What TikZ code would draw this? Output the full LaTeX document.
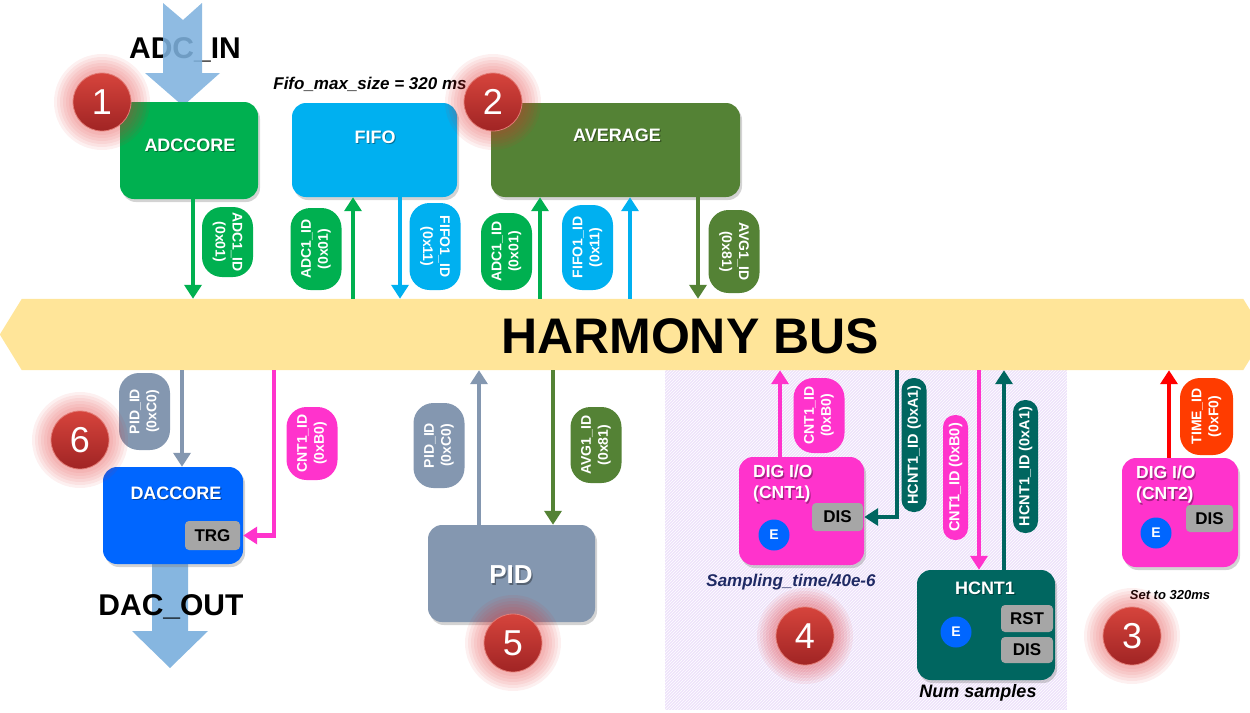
\documentclass[tikz,border=0pt]{standalone}
\usepackage{fontspec}
\setmainfont{Liberation Sans}
\usetikzlibrary{arrows.meta,shadows,patterns}

\definecolor{adcgreen}{RGB}{0,176,80}
\definecolor{fifocyan}{RGB}{0,176,240}
\definecolor{avgolive}{RGB}{84,130,53}
\definecolor{dacblue}{RGB}{0,102,255}
\definecolor{pidgray}{RGB}{132,151,176}
\definecolor{cntpink}{RGB}{255,51,204}
\definecolor{hcntteal}{RGB}{0,102,96}
\definecolor{timered}{RGB}{255,60,0}
\definecolor{arrowred}{RGB}{255,0,0}
\definecolor{btngray}{RGB}{166,166,166}
\definecolor{busyellow}{RGB}{255,229,153}
\definecolor{ioblue}{RGB}{127,178,222}
\definecolor{lavender}{RGB}{238,226,250}
\definecolor{navytext}{RGB}{31,42,100}
\definecolor{badgetop}{RGB}{214,68,60}
\definecolor{badgebot}{RGB}{160,36,36}
\definecolor{glowred}{RGB}{225,45,45}

% numbered marker with a soft red halo
\newcommand{\numbadge}[3]{%
  \foreach \gr in {48,45,42,39,36,33}{\fill[glowred,opacity=0.07] (#1) circle[radius=\gr pt];}
  \node[badge] (#2) at (#1) {#3};}

% white block title with a slight dark shadow
\newcommand{\blocktitle}[3][]{%
  \node[title, text=black, opacity=0.35, #1] at ([xshift=1.2pt,yshift=-1.5pt]#2) {#3};
  \node[title, #1] at (#2) {#3};}

\begin{document}
\begin{tikzpicture}[x=1pt,y=-1pt,
  block/.style={rounded corners=14pt, inner sep=0pt,
    drop shadow={opacity=0.35,shadow xshift=2pt,shadow yshift=-3pt}},
  title/.style={text=white, inner sep=0pt, font=\bfseries\fontsize{18}{21}\selectfont},
  btn/.style={fill=btngray, rounded corners=4pt, inner sep=0pt, font=\bfseries\fontsize{17}{19}\selectfont},
  ebtn/.style={circle, fill=dacblue, minimum size=31pt, inner sep=0pt, text=white,
    font=\bfseries\fontsize{14}{16}\selectfont},
  pill/.style={rounded corners=20pt, inner sep=0pt, text=white, align=center,
    minimum height=51pt, font=\bfseries\fontsize{14}{17}\selectfont},
  thinpill/.style={rounded corners=12pt, inner sep=0pt, text=white, rotate=90,
    minimum height=25pt, font=\bfseries\fontsize{14.5}{16}\selectfont},
  conn/.style={line width=4.5pt, -{Triangle[width=17pt,length=14pt]}},
  badge/.style={circle, minimum size=58pt, inner sep=0pt, top color=badgetop,
    bottom color=badgebot, draw=badgetop!70!white, line width=0.8pt, text=white,
    font=\fontsize{36}{36}\selectfont},
  note/.style={inner sep=0pt, font=\bfseries\itshape\fontsize{17}{19}\selectfont},
  iolabel/.style={inner sep=0pt, font=\bfseries\fontsize{30}{32}\selectfont}
]
\useasboundingbox (0,0) rectangle (1250,712);

% hatched area around the counter blocks
\fill[lavender] (665,365) rectangle (1067,710);
\fill[pattern=north east lines, pattern color=white] (665,365) rectangle (1067,710);

% the bus
\node[minimum width=1221pt, minimum height=71pt, inner sep=0pt] (bus) at (632.5,334.5) {};
\fill[busyellow] (bus.north west) -- (bus.north east) -- ([xshift=22pt]bus.east)
  -- (bus.south east) -- (bus.south west) -- ([xshift=-22pt]bus.west) -- cycle;
\node[inner sep=0pt, font=\bfseries\fontsize{50}{52}\selectfont] (busname) at (690,336) {HARMONY BUS};

% analog input
\node[iolabel] (adcin) at (185,50) {ADC\_IN};
\fill[ioblue, opacity=0.88] (163,3) -- (183,20) -- (202,3) -- (202,73) -- (220,73)
  -- (183,106) -- (145,73) -- (163,73) -- cycle;

% top blocks
\node[block, fill=adcgreen, minimum width=138pt, minimum height=97pt] (adc) at (189,150.5) {};
\blocktitle{190,145}{ADCCORE}
\node[block, fill=fifocyan, minimum width=165pt, minimum height=94pt] (fifo) at (374.5,150) {};
\blocktitle{375,137}{FIFO}
\node[block, fill=avgolive, minimum width=249pt, minimum height=94pt] (avg) at (615.5,150) {};
\blocktitle{617,135}{AVERAGE}
\node[note] (fifosize) at (370,84) {Fifo\_max\_size = 320 ms};

% analog output
\fill[ioblue, opacity=0.95] (152,560) -- (188,560) -- (188,631) -- (208,631)
  -- (170,668) -- (132,631) -- (152,631) -- cycle;
\node[iolabel] (dacout) at (171,607) {DAC\_OUT};

% bottom blocks
\node[block, fill=dacblue, minimum width=140pt, minimum height=97pt] (dac) at (173,515.5) {};
\blocktitle{176,493}{DACCORE}
\node[btn, minimum width=55pt, minimum height=29pt] (trg) at (212.5,535.5) {TRG};

\node[block, fill=pidgray, minimum width=167pt, minimum height=97pt] (pid) at (511.5,573.5) {};
\blocktitle[font=\bfseries\fontsize{26}{28}\selectfont]{511,575}{PID}

\node[block, fill=cntpink, minimum width=125pt, minimum height=108pt] (dig1) at (801.5,511) {};
\blocktitle[font=\bfseries\fontsize{17.5}{21}\selectfont, align=left, anchor=north west]{753,465}{DIG I/O\\(CNT1)}
\node[btn, minimum width=51pt, minimum height=28pt] (dis1) at (837.5,517) {DIS};
\node[ebtn] (e1) at (774,535) {E};
\node[note, text=navytext] (stime) at (791,582) {Sampling\_time/40e-6};

\node[block, fill=hcntteal, minimum width=138pt, minimum height=110pt] (hcnt) at (986,625) {};
\blocktitle{985,588}{HCNT1}
\node[btn, minimum width=52pt, minimum height=27pt] (rst) at (1027,618.5) {RST};
\node[btn, minimum width=52pt, minimum height=26pt] (dis2) at (1027,650) {DIS};
\node[ebtn] (e2) at (956,632) {E};
\node[note, font=\bfseries\itshape\fontsize{18}{20}\selectfont] (nsamp) at (978,693) {Num samples};

\node[block, fill=cntpink, minimum width=116pt, minimum height=109pt] (dig2) at (1180,512.5) {};
\blocktitle[font=\bfseries\fontsize{17.5}{21}\selectfont, align=left, anchor=north west]{1136,466}{DIG I/O\\(CNT2)}
\node[btn, minimum width=47pt, minimum height=27pt] (dis3) at (1209.5,518.5) {DIS};
\node[ebtn] (e3) at (1156,533) {E};
\node[note, font=\bfseries\itshape\fontsize{13}{15}\selectfont] (settime) at (1170,595) {Set to 320ms};

% connectors above the bus
\draw[conn, adcgreen] ([xshift=4pt]adc.south) -- ([xshift=4pt]adc.south |- bus.north);
\draw[conn, adcgreen] ([xshift=-21.5pt]fifo.south |- bus.north) -- ([xshift=-21.5pt]fifo.south);
\draw[conn, fifocyan] ([xshift=25.5pt]fifo.south) -- ([xshift=25.5pt]fifo.south |- bus.north);
\draw[conn, adcgreen] ([xshift=-75.5pt]avg.south |- bus.north) -- ([xshift=-75.5pt]avg.south);
\draw[conn, fifocyan] ([xshift=14.5pt]avg.south |- bus.north) -- ([xshift=14.5pt]avg.south);
\draw[conn, avgolive] ([xshift=82.5pt]avg.south) -- ([xshift=82.5pt]avg.south |- bus.north);

% connectors below the bus
\draw[conn, pidgray] ([xshift=9pt]dac.north |- bus.south) -- ([xshift=9pt]dac.north);
\draw[conn, cntpink] ([xshift=31pt]dac.east |- bus.south) |- (dac.east |- trg.center);
\draw[conn, pidgray] ([xshift=-32.5pt]pid.north) -- ([xshift=-32.5pt]pid.north |- bus.south);
\draw[conn, avgolive] ([xshift=41.5pt]pid.north |- bus.south) -- ([xshift=41.5pt]pid.north);
\draw[conn, cntpink] ([xshift=-21.5pt]dig1.north) -- ([xshift=-21.5pt]dig1.north |- bus.south);
\draw[conn, hcntteal] ([xshift=33pt]dig1.east |- bus.south) |- (dig1.east |- dis1.center);
\draw[conn, cntpink] ([xshift=-7pt]hcnt.north |- bus.south) -- ([xshift=-7pt]hcnt.north);
\draw[conn, hcntteal] ([xshift=18pt]hcnt.north) -- ([xshift=18pt]hcnt.north |- bus.south);
\draw[conn, arrowred] ([xshift=-11pt]dig2.north) -- ([xshift=-11pt]dig2.north |- bus.south);

% address tags
\node[pill, fill=adcgreen, rotate=-90, minimum width=70pt] (t1) at (227.5,242) {ADC1\_ID\\(0x01)};
\node[pill, fill=adcgreen, rotate=90, minimum width=82pt] (t2) at (316,249) {ADC1\_ID\\(0x01)};
\node[pill, fill=fifocyan, rotate=-90, minimum width=87pt] (t3) at (435,246.5) {FIFO1\_ID\\(0x11)};
\node[pill, fill=adcgreen, rotate=90, minimum width=77pt] (t4) at (506.5,251.5) {ADC1\_ID\\(0x01)};
\node[pill, fill=fifocyan, rotate=90, minimum width=85pt] (t5) at (587.5,247.5) {FIFO1\_ID\\(0x11)};
\node[pill, fill=avgolive, rotate=-90, minimum width=83pt] (t6) at (734,251.5) {AVG1\_ID\\(0x81)};

\node[pill, fill=pidgray, rotate=90, minimum width=77pt] (t7) at (144.5,411.5) {PID\_ID\\(0xC0)};
\node[pill, fill=cntpink, rotate=90, minimum width=73pt] (t8) at (312,443.5) {CNT1\_ID\\(0xB0)};
\node[pill, fill=pidgray, rotate=90, minimum width=85pt] (t9) at (439,445.5) {PID\_ID\\(0xC0)};
\node[pill, fill=avgolive, rotate=90, minimum width=76pt] (t10) at (596,445) {AVG1\_ID\\(0x81)};
\node[pill, fill=cntpink, rotate=90, minimum width=75pt] (t11) at (819,415.5) {CNT1\_ID\\(0xB0)};
\node[thinpill, fill=hcntteal, minimum width=134pt] (t12) at (914,445) {HCNT1\_ID (0xA1)};
\node[thinpill, fill=cntpink, minimum width=125pt] (t13) at (955.5,477.5) {CNT1\_ID (0xB0)};
\node[thinpill, fill=hcntteal, minimum width=133pt] (t14) at (1025.5,466.5) {HCNT1\_ID (0xA1)};
\node[pill, fill=timered, rotate=90, minimum width=77pt, minimum height=53pt] (t15) at (1206.5,416.5) {TIME\_ID\\(0xF0)};

% numbered markers
\numbadge{102,102}{b1}{1}
\numbadge{493,102}{b2}{2}
\numbadge{1132,636}{b3}{3}
\numbadge{805,636}{b4}{4}
\numbadge{513,643}{b5}{5}
\numbadge{80,440}{b6}{6}
\end{tikzpicture}
\end{document}
